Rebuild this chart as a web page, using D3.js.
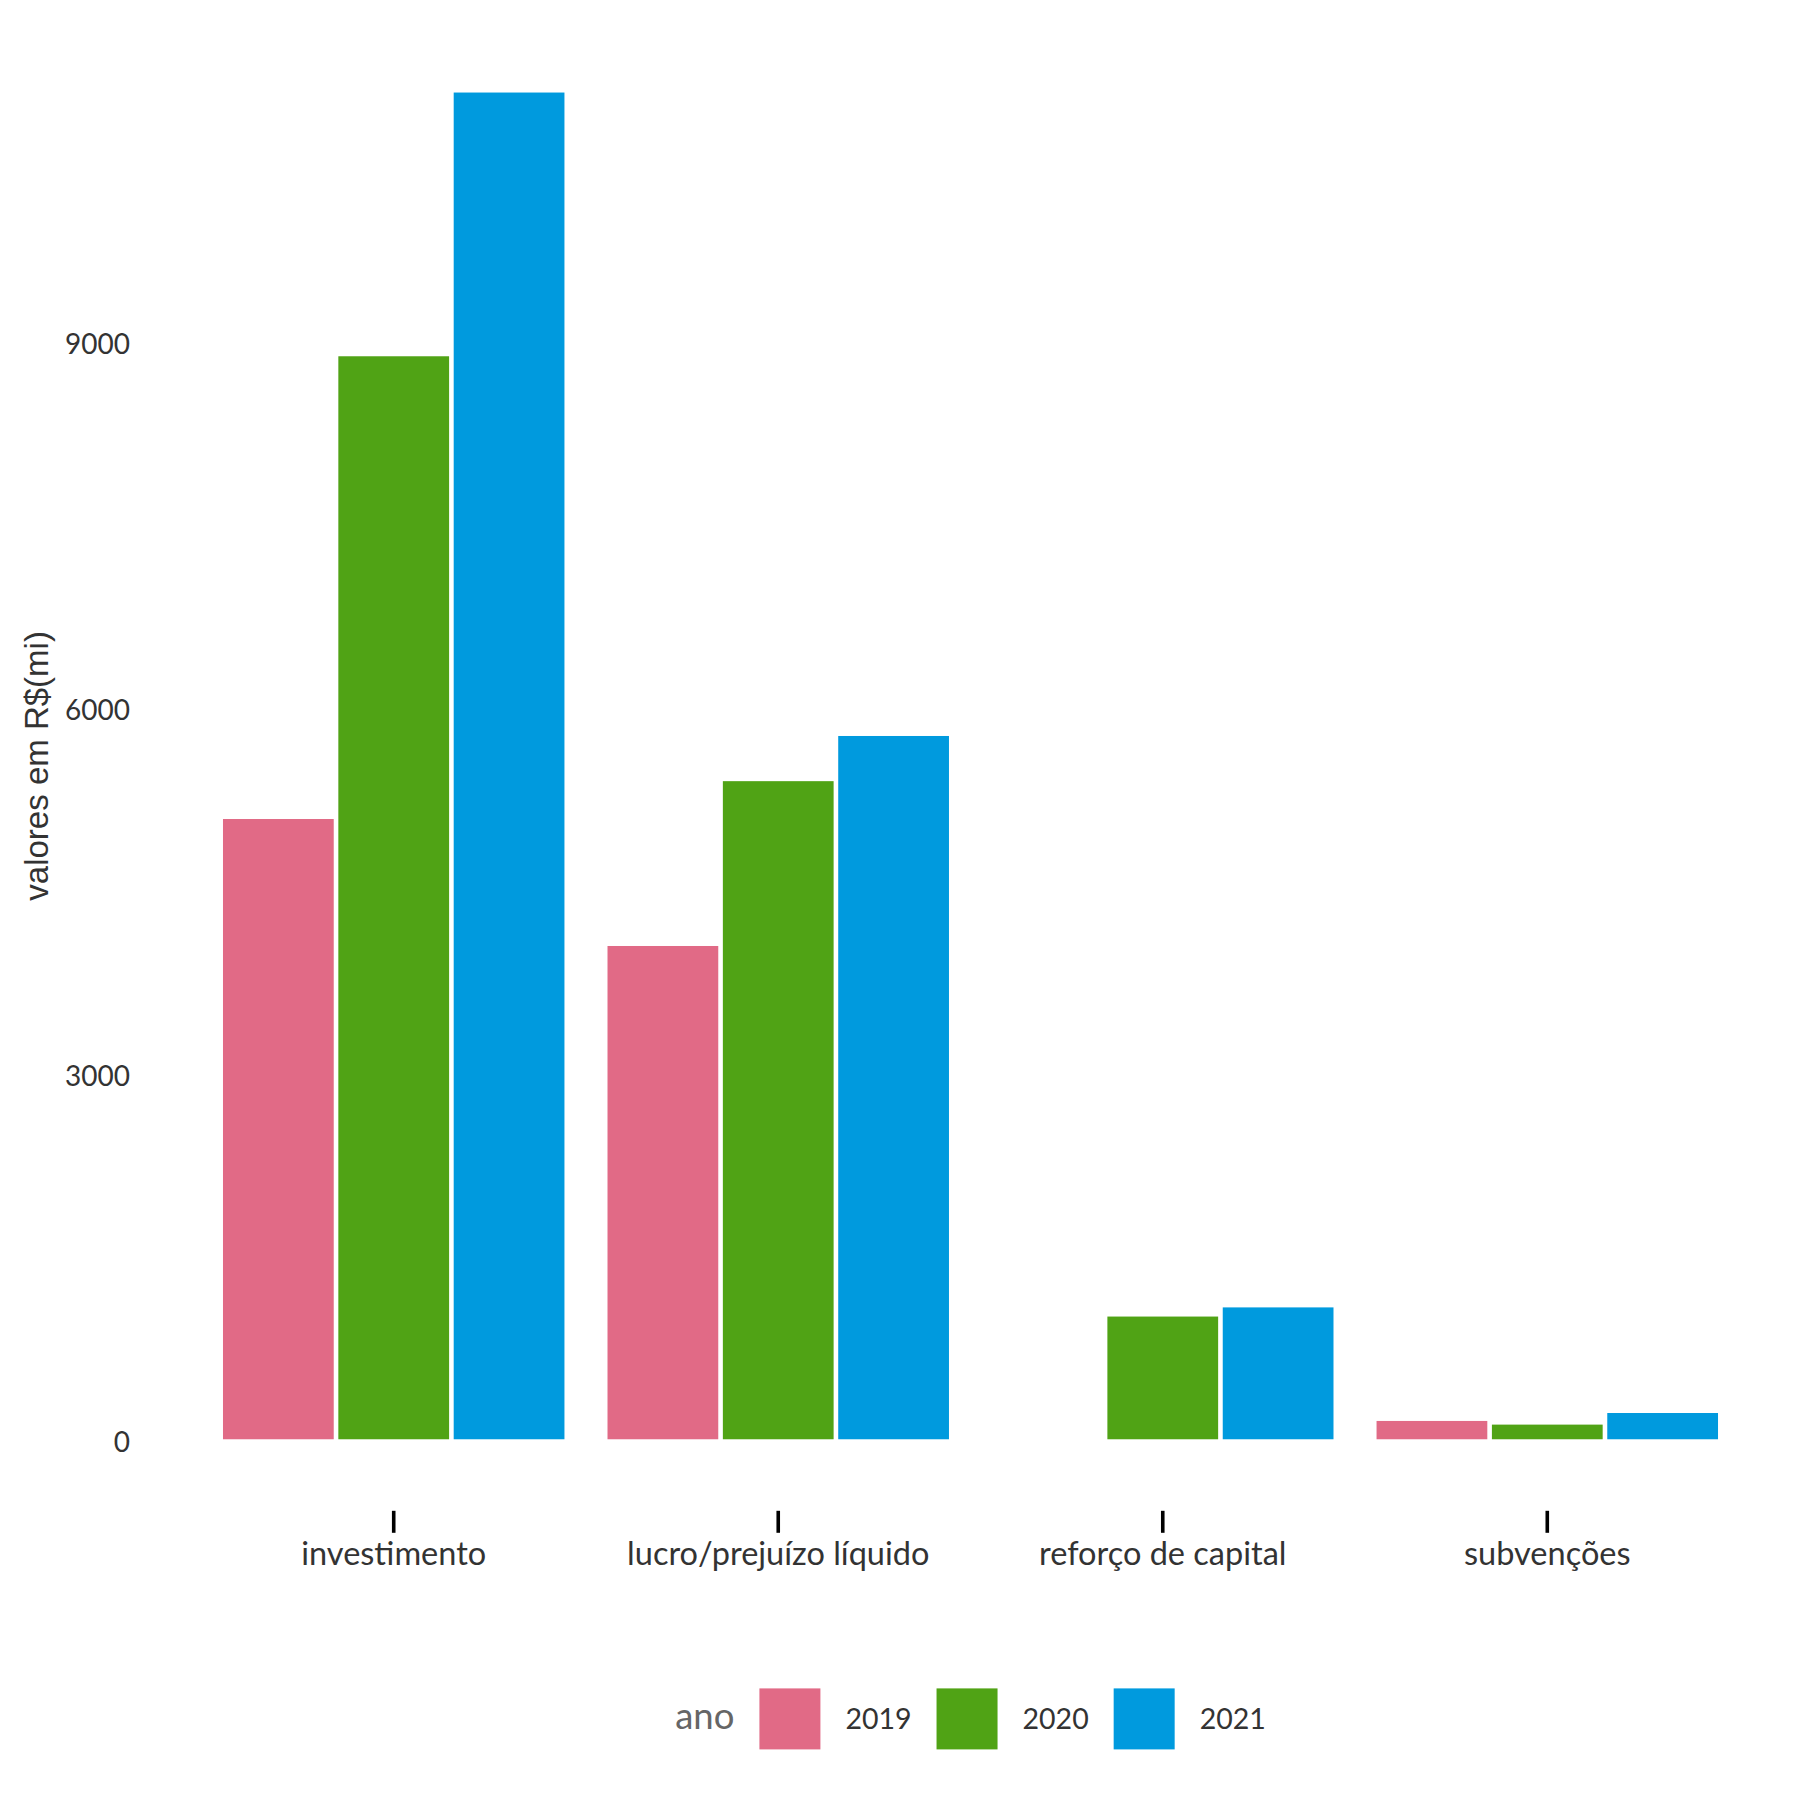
<!DOCTYPE html>
<html>
<head>
<meta charset="utf-8">
<script src="https://cdn.jsdelivr.net/npm/d3@7"></script>
<style>
  html, body { margin: 0; padding: 0; background: #ffffff; }
  svg { display: block; }
</style>
</head>
<body>
<div id="chart"></div>
<script>
// ---- data ----
const categories = ["investimento", "lucro/prejuízo líquido", "reforço de capital", "subvenções"];
const years = ["2019", "2020", "2021"];
const values2019 = [5080, 4040, 0, 150];
const values2020 = [8870, 5390, 1005, 120];
const values2021 = [11030, 5760, 1080, 215];
const yTickValues = [0, 3000, 6000, 9000];
const yearColors = ["#E16A86", "#50A315", "#009ADE"];
const yTitle = "valores em R$(mi)";
const legendTitle = "ano";

// ---- table built from arrays ----
const seriesValues = [values2019, values2020, values2021];
const rows = [];
categories.forEach((c, i) => {
  years.forEach((y, j) => rows.push({ cat: c, year: y, value: seriesValues[j][i] }));
});

// ---- layout ----
const W = 1800, H = 1800;
const panel = { left: 163, right: 1778, top: 25.2, bottom: 1506.6 };
const textFont = "Lato, 'Source Sans Pro', 'Noto Sans', sans-serif";

const svg = d3.select("#chart").append("svg")
  .attr("width", W).attr("height", H)
  .attr("viewBox", `0 0 ${W} ${H}`);

svg.append("rect").attr("width", W).attr("height", H).attr("fill", "#ffffff");

const maxV = d3.max(rows, d => d.value);
const expand = 0.05 * maxV;
const y = d3.scaleLinear()
  .domain([0 - expand, maxV + expand])
  .range([panel.bottom, panel.top]);

const x0 = d3.scaleBand()
  .domain(categories)
  .range([panel.left, panel.right])
  .paddingInner(0.1)
  .paddingOuter(0.15);

const x1 = d3.scaleBand()
  .domain(years)
  .range([0, x0.bandwidth()])
  .padding(0);

const color = d3.scaleOrdinal().domain(years).range(yearColors);

// ---- bars ----
const gap = 4.6;
svg.append("g").selectAll("rect")
  .data(rows)
  .join("rect")
  .attr("x", d => x0(d.cat) + x1(d.year) + gap / 2)
  .attr("width", x1.bandwidth() - gap)
  .attr("y", d => y(Math.max(0, d.value)))
  .attr("height", d => Math.abs(y(d.value) - y(0)))
  .attr("fill", d => color(d.year));

// ---- y axis (labels only) ----
const yAxis = d3.axisLeft(y).tickValues(yTickValues).tickSize(0).tickPadding(0).tickFormat(d3.format("d"));
const gy = svg.append("g")
  .attr("transform", `translate(130,0)`)
  .call(yAxis);
gy.select(".domain").remove();
gy.selectAll("text")
  .attr("x", 0)
  .attr("dy", null)
  .attr("y", 12.6)
  .attr("text-anchor", "end")
  .attr("fill", "#333333")
  .style("font-family", textFont)
  .style("font-size", "28px");

// ---- x axis ----
const xAxis = d3.axisBottom(x0).tickSize(22).tickPadding(0);
const gx = svg.append("g")
  .attr("transform", `translate(0,${panel.bottom + 4.2})`)
  .call(xAxis);
gx.select(".domain").remove();
gx.selectAll(".tick line").attr("stroke", "#000000").attr("stroke-width", 3.6);
gx.selectAll(".tick text")
  .attr("y", 54)
  .attr("dy", null)
  .attr("fill", "#333333")
  .style("font-family", textFont)
  .style("font-size", "32.5px");

// ---- y title ----
svg.append("text")
  .attr("transform", `translate(48.3,${(panel.top + panel.bottom) / 2}) rotate(-90)`)
  .attr("text-anchor", "middle")
  .attr("fill", "#333333")
  .style("font-family", "'Liberation Sans', Arial, sans-serif")
  .style("font-size", "33px")
  .text(yTitle);

// ---- legend ----
const keySize = 61;
const legendBaseline = 1729.3;
const keyTop = 1688.4;
const itemGap = 25;
const lg = svg.append("g");
const titleText = lg.append("text")
  .attr("x", 0).attr("y", legendBaseline)
  .attr("fill", "#666666")
  .style("font-family", textFont)
  .style("font-size", "36.5px")
  .text(legendTitle);
let cx = titleText.node().getComputedTextLength() + itemGap;
years.forEach((yr) => {
  lg.append("rect")
    .attr("x", cx).attr("y", keyTop)
    .attr("width", keySize).attr("height", keySize)
    .attr("fill", color(yr));
  cx += keySize + itemGap;
  const t = lg.append("text")
    .attr("x", cx).attr("y", legendBaseline)
    .attr("fill", "#333333")
    .style("font-family", textFont)
    .style("font-size", "28.5px")
    .text(yr);
  cx += t.node().getComputedTextLength() + itemGap;
});
const legendWidth = cx - itemGap;
lg.attr("transform", `translate(${(panel.left + panel.right) / 2 - legendWidth / 2},0)`);
</script>
</body>
</html>
